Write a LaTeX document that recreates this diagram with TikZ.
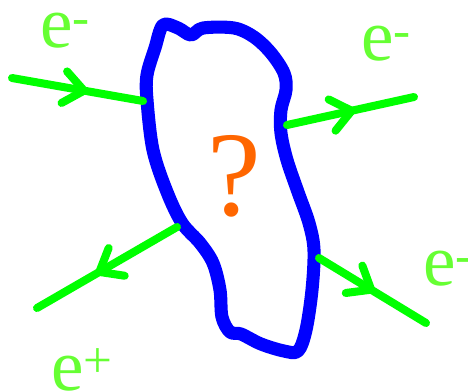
\documentclass[tikz,border=0pt]{standalone}
\usepackage{fontspec}
\setmainfont{Liberation Serif}
\usetikzlibrary{arrows.meta,decorations.markings}
\definecolor{blobblue}{RGB}{0,0,255}
\definecolor{linegreen}{RGB}{0,255,0}
\definecolor{textgreen}{RGB}{102,255,51}
\definecolor{qorange}{RGB}{255,102,0}

\begin{document}
\begin{tikzpicture}[x=0.025cm,y=-0.025cm]
\tikzset{
  particle/.style={inner sep=0pt,anchor=base west,text height=0.62em,text depth=0pt,
    text=textgreen,font=\fontsize{52}{52}\selectfont},
  fermion/.style={draw=linegreen,line width=5.7pt,line cap=round,postaction={decorate},
    decoration={markings,mark=at position #1 with {\arrow{Straight Barb[length=5mm,width=8mm,round]}}}},
  blob/.style={draw=blobblue,line width=9.3pt,fill=white,line join=round}
}
\useasboundingbox (0,0) rectangle (468,391);
% the unknown region
\draw[blob] plot[smooth cycle,tension=0.55] coordinates {
  (163,25) (178,28) (191,35) (203,28) (234,28) (254,37) (271,53) (284,73)
  (286,90) (281,110) (281,133) (287,160) (298,192) (309,223) (314,250)
  (312,290) (306,330) (298,351) (284,351) (261,344) (241,334) (230,332)
  (222,317) (220,290) (213,263) (200,243) (182,223) (167,192) (153,150)
  (147,100) (147,75) (155,48)};
\node[inner sep=0pt,anchor=base,text=qorange,font=\fontsize{86}{86}\selectfont] (n_q) at (234,215) {?};
% the particle lines
\coordinate (n_in_a) at (12,78);
\coordinate (n_b_a) at (143,101);
\coordinate (n_b_b) at (287,125);
\coordinate (n_out_b) at (414,97);
\coordinate (n_b_c) at (177,227);
\coordinate (n_out_c) at (37,308);
\coordinate (n_b_d) at (319,258);
\coordinate (n_out_d) at (426,323);
\draw[fermion=0.58] (n_in_a) -- (n_b_a);
\draw[fermion=0.54] (n_b_b) -- (n_out_b);
\draw[fermion=0.58] (n_b_c) -- (n_out_c);
\draw[fermion=0.52] (n_b_d) -- (n_out_d);
% labels
\node[particle] (n_e_tl) at (40,47) {e\textsuperscript{-}};
\node[particle] (n_e_tr) at (361,60) {e\textsuperscript{-}};
\node[particle] (n_e_r) at (423,285) {e\textsuperscript{-}};
\node[particle] (n_e_bl) at (51,390) {e\textsuperscript{+}};
\end{tikzpicture}
\end{document}
